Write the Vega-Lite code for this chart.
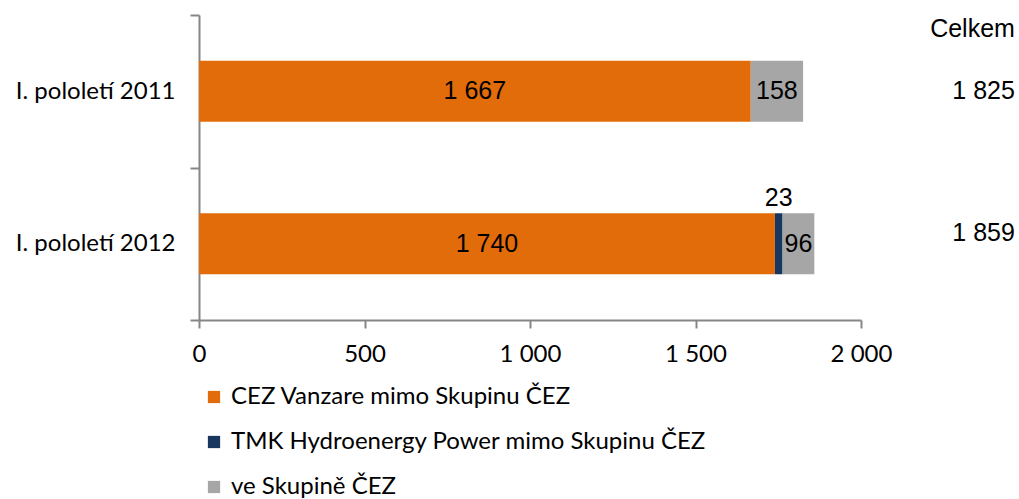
{
  "$schema": "https://vega.github.io/schema/vega-lite/v6.json",
  "width": 662,
  "height": 305,
  "autosize": {"type": "none"},
  "padding": {"left": 199, "top": 15, "right": 158, "bottom": 179},
  "config": {"view": {"stroke": null}},
  "datasets": {
    "parts": [
      {"period": "I. pololetí 2011", "series": "CEZ Vanzare mimo Skupinu ČEZ", "value": 1667, "label": "1 667"},
      {"period": "I. pololetí 2011", "series": "ve Skupině ČEZ", "value": 158, "label": "158"},
      {"period": "I. pololetí 2012", "series": "CEZ Vanzare mimo Skupinu ČEZ", "value": 1740, "label": "1 740"},
      {"period": "I. pololetí 2012", "series": "TMK Hydroenergy Power mimo Skupinu ČEZ", "value": 23, "label": "23"},
      {"period": "I. pololetí 2012", "series": "ve Skupině ČEZ", "value": 96, "label": "96"}
    ],
    "totals": [
      {"period": "I. pololetí 2011", "total": 1825, "label": "1 825"},
      {"period": "I. pololetí 2012", "total": 1859, "label": "1 859"}
    ],
    "header": [{"period": "I. pololetí 2011", "label": "Celkem"}]
  },
  "layer": [
    {
      "data": {"name": "parts"},
      "transform": [
        {"stack": "value", "groupby": ["period"], "sort": [{"field": "series"}], "as": ["v0", "v1"]}
      ],
      "mark": {"type": "bar", "height": {"band": 0.4}},
      "encoding": {
        "y": {
          "field": "period", "type": "nominal",
          "scale": {"domain": ["I. pololetí 2011", "I. pololetí 2012"], "paddingInner": 0, "paddingOuter": 0},
          "axis": {
            "title": null, "domainColor": "#868686", "domainWidth": 2, "tickColor": "#868686", "tickWidth": 2,
            "tickSize": 9, "tickBand": "extent", "labelFont": "Lato", "labelFontSize": 24, "labelColor": "#000000",
            "labelPadding": 15
          }
        },
        "x": {
          "field": "v0", "type": "quantitative",
          "scale": {"domain": [0, 2000], "nice": false},
          "axis": {
            "title": null, "values": [0, 500, 1000, 1500, 2000], "grid": false, "labelFlush": false,
            "domainColor": "#868686", "domainWidth": 2, "tickColor": "#868686", "tickWidth": 2, "tickSize": 8,
            "labelFont": "Lato", "labelFontSize": 24, "labelColor": "#000000", "labelPadding": 14,
            "labelExpr": "replace(format(datum.value, ','), ',', ' ')"
          }
        },
        "x2": {"field": "v1"},
        "color": {
          "field": "series", "type": "nominal",
          "scale": {
            "domain": ["CEZ Vanzare mimo Skupinu ČEZ", "TMK Hydroenergy Power mimo Skupinu ČEZ", "ve Skupině ČEZ"],
            "range": ["#E36C0A", "#17375E", "#A6A6A6"]
          },
          "legend": {
            "title": null, "orient": "none", "legendX": 3, "legendY": 370, "direction": "vertical",
            "symbolType": "square", "symbolSize": 150, "symbolStrokeWidth": 0, "symbolOffset": 0,
            "labelFont": "Lato", "labelFontSize": 24, "labelColor": "#000000", "labelLimit": 700,
            "labelOffset": 5, "rowPadding": 21
          }
        }
      }
    },
    {
      "data": {"name": "parts"},
      "transform": [
        {"stack": "value", "groupby": ["period"], "sort": [{"field": "series"}], "as": ["v0", "v1"]},
        {"calculate": "(datum.v0 + datum.v1) / 2", "as": "mid"},
        {"filter": "datum.series != 'TMK Hydroenergy Power mimo Skupinu ČEZ'"}
      ],
      "mark": {"type": "text", "font": "Liberation Sans", "fontSize": 25, "color": "#000000"},
      "encoding": {
        "y": {"field": "period", "type": "nominal"},
        "x": {"field": "mid", "type": "quantitative"},
        "text": {"field": "label"}
      }
    },
    {
      "data": {"name": "parts"},
      "transform": [
        {"stack": "value", "groupby": ["period"], "sort": [{"field": "series"}], "as": ["v0", "v1"]},
        {"calculate": "(datum.v0 + datum.v1) / 2", "as": "mid"},
        {"filter": "datum.series == 'TMK Hydroenergy Power mimo Skupinu ČEZ'"}
      ],
      "mark": {"type": "text", "font": "Liberation Sans", "fontSize": 25, "color": "#000000", "dy": -46},
      "encoding": {
        "y": {"field": "period", "type": "nominal"},
        "x": {"field": "mid", "type": "quantitative"},
        "text": {"field": "label"}
      }
    },
    {
      "data": {"name": "totals"},
      "transform": [{"filter": "datum.period == 'I. pololetí 2011'"}],
      "mark": {"type": "text", "font": "Liberation Sans", "fontSize": 25, "color": "#000000", "align": "right"},
      "encoding": {
        "y": {"field": "period", "type": "nominal"},
        "x": {"datum": 2465, "type": "quantitative"},
        "text": {"field": "label"}
      }
    },
    {
      "data": {"name": "totals"},
      "transform": [{"filter": "datum.period == 'I. pololetí 2012'"}],
      "mark": {"type": "text", "font": "Liberation Sans", "fontSize": 25, "color": "#000000", "align": "right", "dy": -11},
      "encoding": {
        "y": {"field": "period", "type": "nominal"},
        "x": {"datum": 2465, "type": "quantitative"},
        "text": {"field": "label"}
      }
    },
    {
      "data": {"name": "header"},
      "mark": {"type": "text", "font": "Liberation Sans", "fontSize": 25, "color": "#000000", "align": "right", "dy": -62},
      "encoding": {
        "y": {"field": "period", "type": "nominal"},
        "x": {"datum": 2465, "type": "quantitative"},
        "text": {"field": "label"}
      }
    }
  ]
}
